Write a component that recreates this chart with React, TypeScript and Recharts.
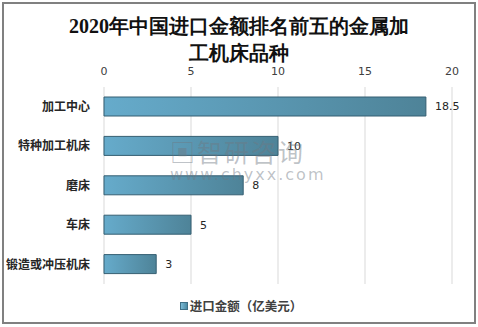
import React from 'react';
import { Bar, BarChart, CartesianGrid, LabelList, Legend, XAxis, YAxis } from 'recharts';

const categories = ['加工中心', '特种加工机床', '磨床', '车床', '锻造或冲压机床'];
const values = [18.5, 10, 8, 5, 3];
const xTicks = [0, 5, 10, 15, 20];

const data = categories.map((name, i) => ({ name, value: values[i] }));

const LegendBox = () => (
  <div style={{ display: 'flex', justifyContent: 'center', alignItems: 'center', paddingTop: 12, paddingLeft: 22 }}>
    <span
      style={{
        display: 'inline-block',
        width: 6,
        height: 6,
        background: 'linear-gradient(90deg, #7bbbd6, #4b8aa3)',
        border: '1px solid #3f7086',
        marginRight: 2,
      }}
    />
    <span style={{ fontSize: 12.5, fontWeight: 'bold', color: '#404040', fontFamily: '"Noto Sans CJK SC", sans-serif' }}>
      进口金额（亿美元）
    </span>
  </div>
);

export default function App() {
  return (
    <div style={{ position: 'fixed', left: 0, top: 0, width: 478, height: 327, background: '#fff' }}>
      <div
        style={{
          position: 'absolute',
          left: 2,
          top: 2,
          width: 470,
          height: 318,
          border: '2px solid #808080',
        }}
      />
      <div
        style={{
          position: 'absolute',
          left: 0,
          top: 13,
          width: 478,
          textAlign: 'center',
          fontFamily: 'serif',
          fontWeight: 'bold',
          fontSize: 20,
          lineHeight: '27px',
          color: '#111',
        }}
      >
        2020年中国进口金额排名前五的金属加
        <br />
        工机床品种
      </div>
      {/* watermark */}
      <div
        style={{
          position: 'absolute',
          left: 170,
          top: 136,
          color: 'rgba(110,120,130,0.45)',
          fontFamily: '"Noto Sans CJK SC", sans-serif',
          pointerEvents: 'none',
          zIndex: 2,
        }}
      >
        <div style={{ fontSize: 25, letterSpacing: 2, lineHeight: '30px' }}>▣智研咨询</div>
        <div style={{ fontSize: 16, letterSpacing: 2, lineHeight: '18px', fontFamily: '"DejaVu Sans", sans-serif' }}>
          www.chyxx.com
        </div>
      </div>
      <div style={{ position: 'absolute', left: 0, top: 0 }}>
        <BarChart
          width={478}
          height={327}
          data={data}
          layout="vertical"
          margin={{ top: 67, right: 26, bottom: 13, left: 8 }}
          barSize={19}
        >
          <defs>
            <linearGradient id="barFill" x1="0" y1="0" x2="1" y2="0">
              <stop offset="0%" stopColor="#66abcb" />
              <stop offset="100%" stopColor="#4e8398" />
            </linearGradient>
          </defs>
          <CartesianGrid horizontal={false} stroke="#d9d9d9" />
          <XAxis
            type="number"
            orientation="top"
            domain={[0, 20]}
            ticks={xTicks}
            axisLine={false}
            tickLine={false}
            height={20}
            tickMargin={6}
            tick={{ fontSize: 11, fill: '#404040', fontFamily: '"DejaVu Sans", sans-serif' }}
          />
          <YAxis
            type="category"
            dataKey="name"
            width={96}
            axisLine={false}
            tickLine={false}
            tickMargin={8}
            tick={{ fontSize: 12, fontWeight: 'bold', fill: '#262626', fontFamily: '"Noto Sans CJK SC", sans-serif' }}
          />
          <Legend verticalAlign="bottom" height={30} content={<LegendBox />} />
          <Bar dataKey="value" fill="url(#barFill)" stroke="#355f72" strokeWidth={1} isAnimationActive={false}>
            <LabelList
              dataKey="value"
              position="right"
              offset={9}
              style={{ fontSize: 11, fill: '#262626', fontFamily: '"DejaVu Sans", sans-serif' }}
            />
          </Bar>
        </BarChart>
      </div>
    </div>
  );
}
